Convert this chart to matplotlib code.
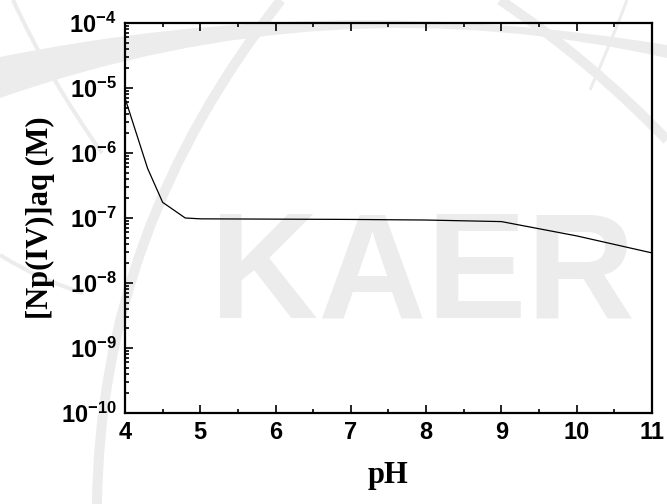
import numpy as np
import matplotlib
matplotlib.use('Agg')
import matplotlib.pyplot as plt
from matplotlib.path import Path
from matplotlib.patches import PathPatch
from matplotlib.ticker import FixedLocator, LogLocator, NullFormatter, MultipleLocator

# data
ph = [4.0, 4.3, 4.5, 4.8, 5.0, 6.0, 7.0, 8.0, 9.0, 10.0, 11.0]
np_aq = [7.0e-6, 5.8e-7, 1.74e-7, 1.0e-7, 9.7e-8, 9.6e-8, 9.5e-8, 9.3e-8, 8.8e-8, 5.3e-8, 2.9e-8]

x_ticks = [4, 5, 6, 7, 8, 9, 10, 11]
y_ticks = [1e-10, 1e-9, 1e-8, 1e-7, 1e-6, 1e-5, 1e-4]
y_labels = [r'$\mathbf{10^{-%d}}$' % e for e in [10, 9, 8, 7, 6, 5, 4]]

plt.rcParams['mathtext.fontset'] = 'custom'
plt.rcParams['mathtext.bf'] = 'Liberation Sans:bold'
plt.rcParams['mathtext.rm'] = 'Liberation Sans:bold'

W, H = 667, 504
fig = plt.figure(figsize=(W / 100, H / 100), dpi=100)

# faint watermark in the background (pixel coords, y from top)
wm = '#ececec'
def px(pts):
    return [(x / 100, (H - y) / 100) for x, y in pts]

def curve(p0, c, p1, lw):
    path = Path(px([p0, c, p1]), [Path.MOVETO, Path.CURVE3, Path.CURVE3])
    fig.patches.append(PathPatch(path, fc='none', ec=wm, lw=lw * 0.72,
                                 transform=fig.dpi_scale_trans, zorder=-5))

# wide arch band across the top
band = px([(0, 57), (330, -10), (667, 45), (667, 58), (330, -18), (0, 98), (0, 57)])
fig.patches.append(PathPatch(Path(band, [Path.MOVETO, Path.CURVE3, Path.CURVE3,
                                         Path.LINETO, Path.CURVE3, Path.CURVE3,
                                         Path.CLOSEPOLY]),
                             fc=wm, ec='none', transform=fig.dpi_scale_trans, zorder=-5))
curve((281, 0), (100, 230), (97, 504), 10)
curve((500, 0), (590, 60), (667, 140), 10)
curve((13, 0), (50, 80), (102, 153), 4)
curve((0, 255), (40, 280), (83, 293), 4)
curve((627, 0), (610, 45), (590, 90), 3)

fig.text(210 / W, (H - 318) / H, 'KAER', fontsize=108, fontweight='bold',
         family='Liberation Sans', color=wm, zorder=-5, va='baseline')

ax = fig.add_axes([0.1874, 0.1806, 0.7901, 0.7738])
ax.set_facecolor('none')
ax.plot(ph, np_aq, color='black', lw=0.9)
ax.set_yscale('log')
ax.set_xlim(4, 11)
ax.set_ylim(1e-10, 1e-4)

ax.xaxis.set_major_locator(FixedLocator(x_ticks))
ax.xaxis.set_minor_locator(MultipleLocator(0.5))
ax.set_xticklabels([str(t) for t in x_ticks], fontsize=17, fontweight='bold',
                   family='Liberation Sans')
ax.yaxis.set_major_locator(FixedLocator(y_ticks))
ax.yaxis.set_minor_locator(LogLocator(base=10, subs=np.arange(2, 10)))
ax.yaxis.set_minor_formatter(NullFormatter())
ax.set_yticklabels(y_labels, fontsize=17)

ax.tick_params(which='both', direction='in', top=True, right=False, width=1.2)
ax.tick_params(which='major', length=6, pad=6)
ax.tick_params(which='minor', length=3)
for s in ax.spines.values():
    s.set_linewidth(1.6)

ax.set_xlabel('pH', fontsize=22, fontweight='bold', family='Liberation Serif', labelpad=12)
ax.set_ylabel('[Np(IV)]aq (M)', fontsize=22, fontweight='bold', family='Liberation Serif', labelpad=4)

fig.savefig('out.png', dpi=100)
